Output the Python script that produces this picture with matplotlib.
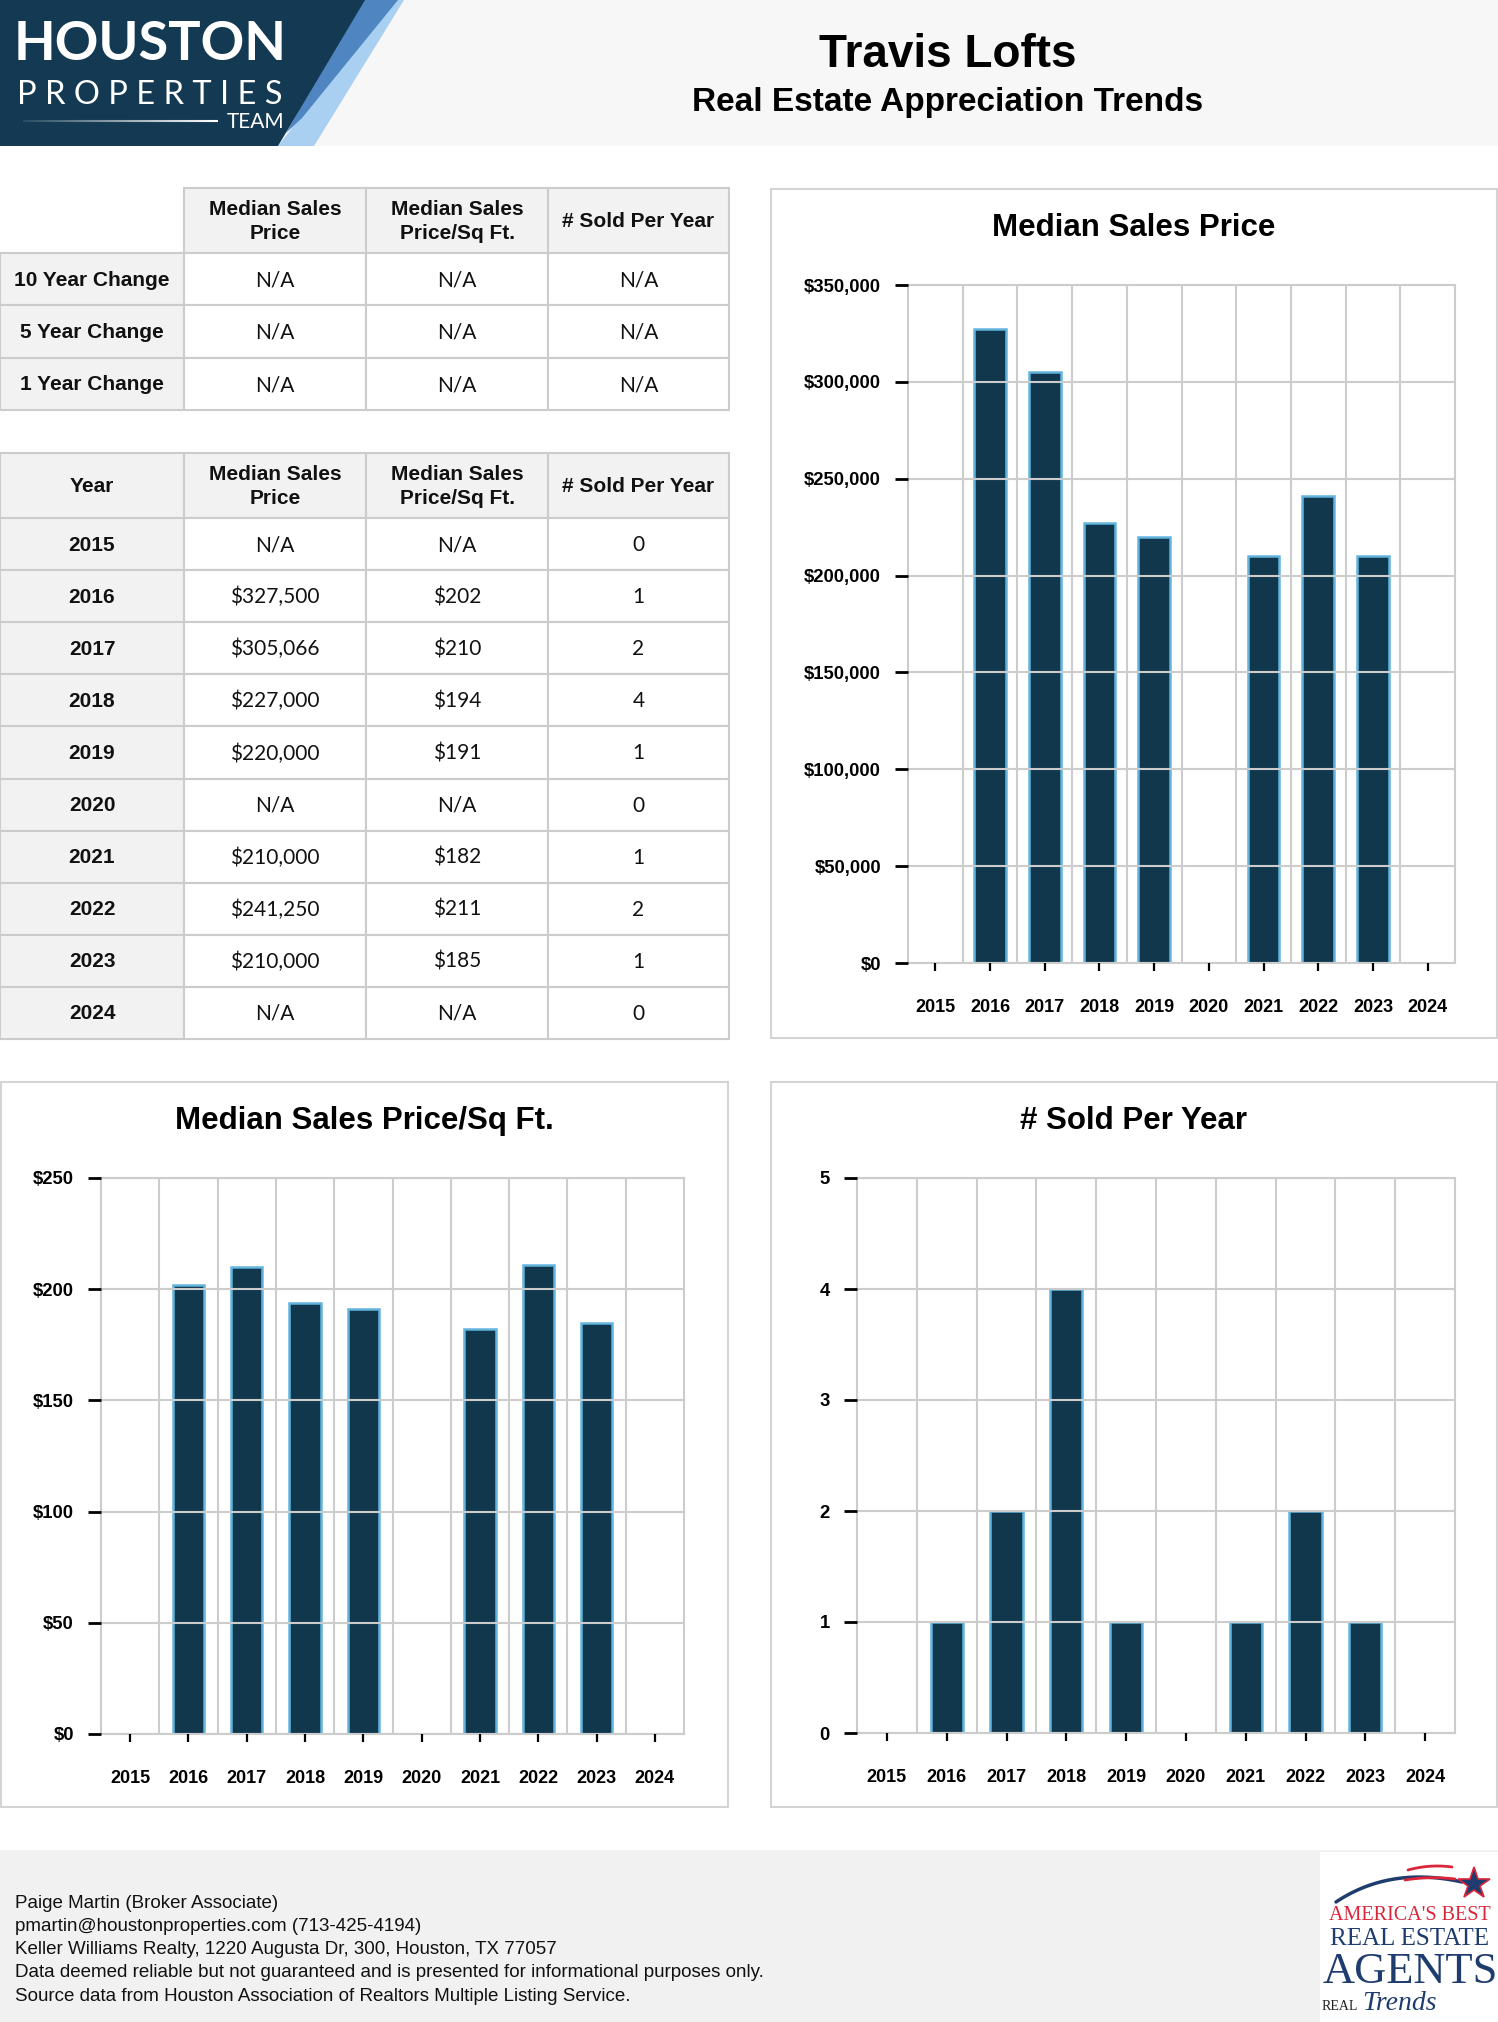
import matplotlib
matplotlib.use('Agg')
import matplotlib.pyplot as plt
from matplotlib.patches import Rectangle, Polygon
from matplotlib.collections import LineCollection
from matplotlib.ticker import FuncFormatter
import numpy as np

W, H = 1498, 2022
SANS = 'Liberation Sans'

YEARS = [2015, 2016, 2017, 2018, 2019, 2020, 2021, 2022, 2023, 2024]
MEDIAN_PRICE = [np.nan, 327500, 305066, 227000, 220000, np.nan, 210000, 241250, 210000, np.nan]
PRICE_SQFT = [np.nan, 202, 210, 194, 191, np.nan, 182, 211, 185, np.nan]
SOLD = [0, 1, 2, 4, 1, 0, 1, 2, 1, 0]

CHANGE_ROWS = ['10 Year Change', '5 Year Change', '1 Year Change']
CHANGE_PRICE = ['N/A', 'N/A', 'N/A']
CHANGE_SQFT = ['N/A', 'N/A', 'N/A']
CHANGE_SOLD = ['N/A', 'N/A', 'N/A']
COLUMNS = ['Median Sales\nPrice', 'Median Sales\nPrice/Sq Ft.', '# Sold Per Year']

FOOTER = ['Paige Martin (Broker Associate)',
          'pmartin@houstonproperties.com (713-425-4194)',
          'Keller Williams Realty, 1220 Augusta Dr, 300, Houston, TX 77057',
          'Data deemed reliable but not guaranteed and is presented for informational purposes only.',
          'Source data from Houston Association of Realtors Multiple Listing Service.']

NAVY = '#11374d'
EDGE = '#62b3de'
GRID = '#cccccc'
CELL_GREY = '#f2f2f2'

fig = plt.figure(figsize=(W / 100, H / 100), dpi=100, facecolor='white')
ov = fig.add_axes([0, 0, 1, 1])
ov.set_xlim(0, W)
ov.set_ylim(H, 0)
ov.axis('off')


def px_axes(l, t, r, b):
    return fig.add_axes([l / W, 1 - b / H, (r - l) / W, (b - t) / H])


# header band + logo
ov.add_patch(Rectangle((0, 0), W, 146, color='#f7f7f7', lw=0))
ov.add_patch(Polygon([(392, 0), (404, 0), (314, 146), (278, 146)], color='#a9d0f0', lw=0))
ov.add_patch(Polygon([(362, 0), (398, 0), (302, 118), (286, 133)], color='#4f86c2', lw=0))
ov.add_patch(Polygon([(0, 0), (365, 0), (278, 146), (0, 146)], color='#133a52', lw=0))
ov.text(150, 45, 'HOUSTON', color='white', fontsize=39, fontweight='bold', family='Lato',
        ha='center', va='center')
ov.text(150, 95, 'P R O P E R T I E S', color='white', fontsize=23.5, family='Lato',
        ha='center', va='center')
ov.text(284, 122, 'TEAM', color='white', fontsize=15, family='Lato', ha='right', va='center')
xs = np.linspace(23, 218, 40)
segs = [[(xs[i], 121), (xs[i + 1], 121)] for i in range(len(xs) - 1)]
ov.add_collection(LineCollection(segs, colors=[(1, 1, 1, a) for a in np.linspace(0.1, 1, len(segs))],
                                 linewidths=1.5))

ov.text(948, 55, 'Travis Lofts', fontsize=33, fontweight='bold', family=SANS, ha='center', va='center')
ov.text(948, 103, 'Real Estate Appreciation Trends', fontsize=24, fontweight='bold', family=SANS,
        ha='center', va='center')


def cell(x0, y0, x1, y1, fill, text, bold, border=True):
    ov.add_patch(Rectangle((x0, y0), x1 - x0, y1 - y0, facecolor=fill,
                           edgecolor=GRID if border else 'none', lw=1.5))
    if text:
        ov.text((x0 + x1) / 2, (y0 + y1) / 2 + 1, text, ha='center', va='center', fontsize=15,
                family=SANS if bold else 'Lato', fontweight='bold' if bold else 'normal',
                linespacing=1.3, color='#111111')


COLX = [0, 184, 366, 548, 729]

# change table
cell(0, 188, COLX[1], 253, 'white', '', False, border=False)
for j, c in enumerate(COLUMNS):
    cell(COLX[j + 1], 188, COLX[j + 2], 253, CELL_GREY, c, True)
for i, lab in enumerate(CHANGE_ROWS):
    y0 = 253 + i * 52.4
    vals = [CHANGE_PRICE[i], CHANGE_SQFT[i], CHANGE_SOLD[i]]
    cell(COLX[0], y0, COLX[1], y0 + 52.4, CELL_GREY, lab, True)
    for j, v in enumerate(vals):
        cell(COLX[j + 1], y0, COLX[j + 2], y0 + 52.4, 'white', v, False)

# yearly table
cell(COLX[0], 453, COLX[1], 518, CELL_GREY, 'Year', True)
for j, c in enumerate(COLUMNS):
    cell(COLX[j + 1], 453, COLX[j + 2], 518, CELL_GREY, c, True)
for i, yr in enumerate(YEARS):
    y0 = 518 + i * 52.1
    p = MEDIAN_PRICE[i]
    s = PRICE_SQFT[i]
    vals = ['N/A' if np.isnan(p) else '${:,.0f}'.format(p),
            'N/A' if np.isnan(s) else '${:,.0f}'.format(s),
            str(SOLD[i])]
    cell(COLX[0], y0, COLX[1], y0 + 52.1, CELL_GREY, str(yr), True)
    for j, v in enumerate(vals):
        cell(COLX[j + 1], y0, COLX[j + 2], y0 + 52.1, 'white', v, False)


def bar_chart(panel, box, values, ymax, step, fmt, title, width):
    px0, py0, px1, py1 = panel
    ov.add_patch(Rectangle((px0, py0), px1 - px0, py1 - py0, facecolor='white', edgecolor='#d4d4d4', lw=1.5))
    ov.text((px0 + px1) / 2, py0 + 39, title, fontsize=22.5, fontweight='bold', family=SANS,
            ha='center', va='center')
    l, t, r, b = box
    ax = px_axes(l, t, r, b)
    x = np.arange(len(YEARS))
    v = np.nan_to_num(np.array(values, dtype=float))
    m = v > 0
    ax.bar(x[m], v[m], width=width, color=NAVY, edgecolor=EDGE, linewidth=1.8, zorder=1)
    ax.set_xlim(-0.5, len(YEARS) - 0.5)
    ax.set_ylim(0, ymax)
    ax.set_yticks(np.arange(0, ymax + step / 2, step))
    ax.yaxis.set_major_formatter(FuncFormatter(fmt))
    ax.set_xticks(x)
    ax.set_xticklabels([str(y) for y in YEARS])
    ax.set_xticks(np.arange(0.5, len(YEARS) - 1, 1), minor=True)
    ax.set_axisbelow(False)
    ax.grid(axis='y', which='major', color=GRID, lw=1.5)
    ax.grid(axis='x', which='minor', color=GRID, lw=1.5)
    ax.grid(axis='x', which='major', visible=False)
    ax.tick_params(axis='x', which='minor', length=0)
    ax.tick_params(axis='x', which='major', length=6, width=1.6, color='black', pad=20, labelsize=13)
    ax.tick_params(axis='y', length=9.5, width=2, color='black', pad=10, labelsize=13.3)
    for lab in ax.get_xticklabels() + ax.get_yticklabels():
        lab.set_fontweight('bold')
        lab.set_family(SANS)
    for lab in ax.get_yticklabels():
        lab.set_va('center_baseline')
    for sp in ax.spines.values():
        sp.set_color(GRID)
        sp.set_linewidth(1.5)
    return ax


bar_chart((771, 189, 1497, 1038), (908, 285, 1455, 963), MEDIAN_PRICE, 350000, 50000,
          lambda v, p: '${:,.0f}'.format(v), 'Median Sales Price', 0.58)
bar_chart((1, 1082, 728, 1807), (101, 1178, 684, 1734), PRICE_SQFT, 250, 50,
          lambda v, p: '${:.0f}'.format(v), 'Median Sales Price/Sq Ft.', 0.54)
bar_chart((771, 1082, 1497, 1807), (857, 1178, 1455, 1733), SOLD, 5, 1,
          lambda v, p: '{:.0f}'.format(v), '# Sold Per Year', 0.54)

# footer
ov.add_patch(Rectangle((0, 1850), W, H - 1850, color='#f1f1f1', lw=0))
for i, line in enumerate(FOOTER):
    ov.text(15, 1903 + i * 23.3, line, fontsize=13.5, family=SANS, ha='left', va='center', color='#111111')

ov.add_patch(Rectangle((1320, 1852), 178, 170, color='white', lw=0))
t = np.linspace(0, 1, 50)
for (a, c, b), col, lw in [(((1336, 1902), (1390, 1866), (1462, 1882)), '#1f3c6e', 2.5),
                           (((1408, 1870), (1430, 1864), (1452, 1867)), '#d9263a', 2),
                           (((1405, 1880), (1430, 1876), (1455, 1879)), '#d9263a', 2)]:
    bx = (1 - t) ** 2 * a[0] + 2 * (1 - t) * t * c[0] + t ** 2 * b[0]
    by = (1 - t) ** 2 * a[1] + 2 * (1 - t) * t * c[1] + t ** 2 * b[1]
    ov.plot(bx, by, color=col, lw=lw, solid_capstyle='round')
ov.plot([1474], [1884], marker='*', markersize=24, color='#1f3c6e', markeredgecolor='#d9263a',
        markeredgewidth=1.2)
ov.text(1410, 1915, "AMERICA'S BEST", fontsize=14.5, family='Liberation Serif', color='#d9263a',
        ha='center', va='center')
ov.text(1410, 1939, 'REAL ESTATE', fontsize=18, family='Liberation Serif', color='#1f3c6e',
        ha='center', va='center')
ov.text(1410, 1972, 'AGENTS', fontsize=32, family='Liberation Serif', color='#1f3c6e',
        ha='center', va='center')
ov.text(1322, 2006, 'REAL', fontsize=10, family='Liberation Serif', color='#222222',
        ha='left', va='center')
ov.text(1362, 2003, 'Trends', fontsize=20, family='Liberation Serif', style='italic',
        color='#1f3c6e', ha='left', va='center')

fig.savefig('out.png', dpi=100, facecolor='white')
